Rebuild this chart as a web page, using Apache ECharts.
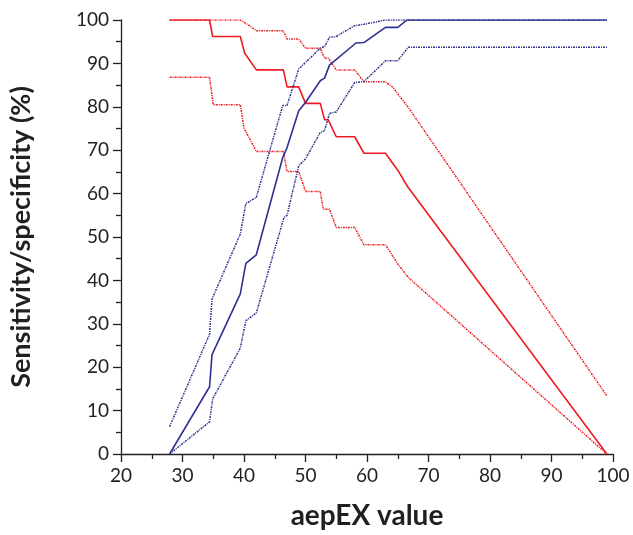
<!DOCTYPE html>
<html>
<head>
<meta charset="utf-8">
<script src="https://cdn.jsdelivr.net/npm/echarts@6/dist/echarts.min.js"></script>
<style>
html,body{margin:0;padding:0;background:#fff;}
#chart{width:633px;height:535px;}
</style>
</head>
<body>
<div id="chart"></div>
<script>
// Sensitivity (red) with CI bounds
const sensX   = [27.9,34.4,34.9,39.4,40.1,42.0,46.4,47.0,48.9,50.0,52.4,53.1,53.7,55.0,58.0,59.5,63.0,65.0,66.7,99.0];
const sensY   = [100,100,96.2,96.2,92.4,88.5,88.5,84.6,84.6,80.8,80.8,77.0,77.0,73.1,73.1,69.3,69.3,65.4,61.4,0];
const sensUpX = [27.9,39.4,40.9,42.0,46.4,47.0,48.9,50.0,52.4,53.1,53.7,55.0,58.0,59.5,63.0,64.2,65.0,66.7,99.0];
const sensUpY = [100,100,98.7,97.5,97.5,95.6,95.6,93.5,93.5,91.2,91.2,88.5,88.5,85.8,85.8,84.5,83.0,79.9,13.4];
const sensLoX = [27.9,34.4,35.0,39.4,40.0,42.0,46.4,47.0,48.9,50.0,52.4,52.9,53.9,55.0,58.0,59.5,63.0,65.0,66.7,99.0];
const sensLoY = [86.8,86.8,80.5,80.5,75.1,69.7,69.7,65.1,65.1,60.5,60.5,56.4,56.4,52.2,52.2,48.2,48.2,43.8,40.7,0];
// Specificity (blue) with CI bounds
const specX   = [27.9,34.4,34.8,39.4,40.3,42.0,46.3,47.0,48.9,50.0,52.4,53.1,53.9,58.2,59.5,63.0,65.0,66.5,99.0];
const specY   = [0,15.5,22.9,36.9,43.9,45.9,68.3,70.6,79.1,81.0,86.0,86.6,89.6,94.7,94.8,98.3,98.3,100,100];
const specUpX = [27.9,34.4,34.8,39.4,40.3,42.0,46.3,47.0,48.9,50.0,52.4,53.1,53.9,55.0,58.0,59.5,63.0,99.0];
const specUpY = [6.3,27.6,35.7,50.7,57.7,59.1,80.3,80.3,88.7,90.2,93.5,93.9,96.0,96.2,98.7,99.0,100,100];
const specLoX = [27.9,34.4,34.9,39.4,40.3,42.0,46.5,47.0,48.9,50.0,52.4,53.1,53.9,55.0,58.0,59.5,63.0,65.0,66.7,99.0];
const specLoY = [0,7.4,12.7,24.4,30.7,32.5,54.5,55.0,66.4,68.0,74.1,74.5,78.5,78.8,85.6,85.8,90.6,90.6,93.7,93.7];

const xTicks = [20,30,40,50,60,70,80,90,100];
const yTicks = [0,10,20,30,40,50,60,70,80,90,100];

const RED = '#ed1c24';
const BLUE = '#2e3192';

function pairs(xs, ys){ return xs.map((x,i)=>[x, ys[i]]); }
function line(name, xs, ys, color, dotted){
  return {
    name: name, type: 'line', data: pairs(xs, ys), symbol: 'none', smooth: false,
    lineStyle: dotted ? {color: color, width: 1.5, type: [2,1,1,1]} : {color: color, width: 1.6},
    silent: true, animation: false
  };
}

const chart = echarts.init(document.getElementById('chart'), null, {renderer: 'canvas'});
const axisFont = {fontFamily: 'Lato', fontSize: 19, color: '#231f20'};
chart.setOption({
  animation: false,
  backgroundColor: '#fff',
  grid: {left: 121, right: 20, top: 20, bottom: 81, containLabel: false},
  xAxis: {
    type: 'value', min: xTicks[0], max: xTicks[xTicks.length-1], interval: 10,
    name: 'aepEX value', nameLocation: 'middle', nameGap: 48,
    nameTextStyle: {fontFamily: 'Lato', fontWeight: 'bold', fontSize: 28, color: '#231f20'},
    axisLine: {show: true, lineStyle: {color: '#231f20', width: 1.3}},
    axisTick: {show: true, length: 8, lineStyle: {color: '#231f20', width: 1.3}},
    minorTick: {show: true, splitNumber: 2, length: 5, lineStyle: {color: '#231f20', width: 1.3}},
    axisLabel: Object.assign({margin: 12}, axisFont),
    splitLine: {show: false}
  },
  yAxis: {
    type: 'value', min: yTicks[0], max: yTicks[yTicks.length-1], interval: 10,
    name: 'Sensitivity/specificity (%)', nameLocation: 'middle', nameGap: 86,
    nameTextStyle: {fontFamily: 'Lato', fontWeight: 'bold', fontSize: 27, color: '#231f20'},
    axisLine: {show: true, lineStyle: {color: '#231f20', width: 1.3}},
    axisTick: {show: true, length: 8, lineStyle: {color: '#231f20', width: 1.3}},
    minorTick: {show: true, splitNumber: 2, length: 5, lineStyle: {color: '#231f20', width: 1.3}},
    axisLabel: Object.assign({margin: 12}, axisFont),
    splitLine: {show: false}
  },
  series: [
    line('Sensitivity upper', sensUpX, sensUpY, RED, true),
    line('Sensitivity lower', sensLoX, sensLoY, RED, true),
    line('Sensitivity', sensX, sensY, RED, false),
    line('Specificity upper', specUpX, specUpY, BLUE, true),
    line('Specificity lower', specLoX, specLoY, BLUE, true),
    line('Specificity', specX, specY, BLUE, false)
  ]
});
</script>
</body>
</html>
